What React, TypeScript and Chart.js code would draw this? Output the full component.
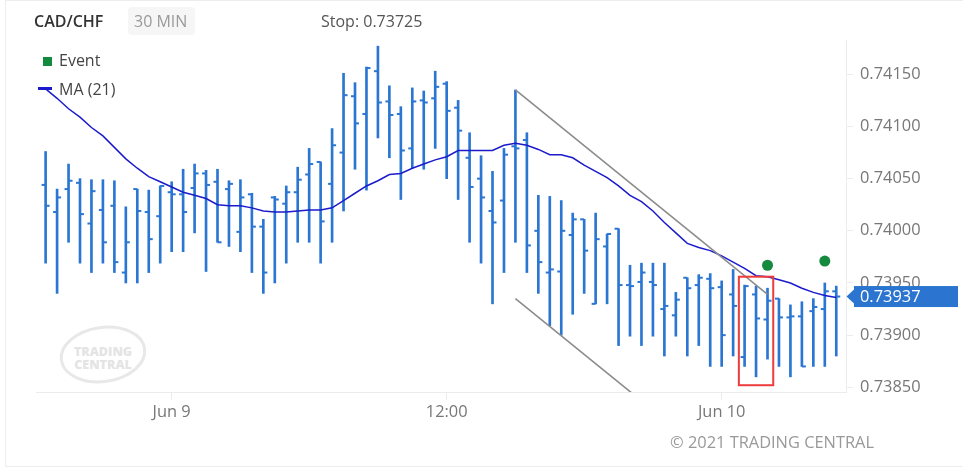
import React, { useEffect, useRef } from "react";
import { Chart, registerables } from "chart.js";

Chart.register(...registerables);

// ---- data (30-min OHLC bars, Jun 8 18:30 -> Jun 10 05:00) ----
const opens = [
  0.74044, 0.74018, 0.7404, 0.74046, 0.74007, 0.7402, 0.74024, 0.7396, 0.7404, 0.74018,
  0.74014, 0.74037, 0.74035, 0.74041, 0.74055, 0.74047, 0.7404, 0.73999, 0.74035, 0.74004,
  0.74032, 0.74026, 0.74037, 0.74054, 0.74066, 0.74045, 0.74075, 0.74129, 0.74112, 0.74153,
  0.74124, 0.74112, 0.74079, 0.74125, 0.74127, 0.74141, 0.74118, 0.7407, 0.7405, 0.74019,
  0.74029, 0.74081, 0.74087, 0.74, 0.7396, 0.73961, 0.73996, 0.74011, 0.7393, 0.73985,
  0.74002, 0.73948, 0.73951, 0.73951, 0.73925, 0.73919, 0.73955, 0.73948, 0.73954, 0.73946,
  0.73939, 0.73879, 0.73939, 0.73915, 0.73935, 0.73917, 0.73918, 0.73923, 0.73925, 0.73942,
];
const highs = [
  0.74076, 0.7404, 0.74064, 0.7405, 0.74049, 0.74049, 0.74048, 0.74023, 0.7404, 0.74039,
  0.74043, 0.74047, 0.74059, 0.74064, 0.74058, 0.74059, 0.74048, 0.74049, 0.74036, 0.74011,
  0.74033, 0.74043, 0.74061, 0.74079, 0.74066, 0.74098, 0.74151, 0.74142, 0.74157, 0.74177,
  0.74139, 0.74119, 0.74137, 0.74134, 0.74153, 0.74143, 0.74125, 0.74094, 0.74072, 0.74057,
  0.74079, 0.74135, 0.74094, 0.74034, 0.74033, 0.74029, 0.74017, 0.74011, 0.74017, 0.73997,
  0.74002, 0.73967, 0.73969, 0.73969, 0.73969, 0.73941, 0.73955, 0.73958, 0.73959, 0.73952,
  0.73963, 0.73948, 0.73947, 0.73945, 0.73935, 0.73929, 0.73932, 0.73935, 0.7395, 0.73947,
];
const lows = [
  0.73969, 0.7394, 0.73989, 0.73969, 0.7396, 0.73969, 0.7396, 0.7395, 0.7395, 0.7396,
  0.73969, 0.7398, 0.7398, 0.73998, 0.73961, 0.73989, 0.73985, 0.7398, 0.7396, 0.7394,
  0.7395, 0.73969, 0.73989, 0.73989, 0.73969, 0.73989, 0.74019, 0.74059, 0.74039, 0.74089,
  0.7407, 0.7403, 0.7406, 0.74059, 0.74079, 0.7405, 0.7403, 0.73989, 0.73969, 0.7393,
  0.7396, 0.73989, 0.7396, 0.7394, 0.73909, 0.739, 0.7392, 0.7394, 0.7393, 0.7393,
  0.7389, 0.73899, 0.7389, 0.73899, 0.7388, 0.73899, 0.7388, 0.7389, 0.7387, 0.7387,
  0.7388, 0.7387, 0.7386, 0.73877, 0.7387, 0.7386, 0.7387, 0.7387, 0.7387, 0.7388,
];
const closes = [
  0.74024, 0.74032, 0.74048, 0.74016, 0.74038, 0.73989, 0.7397, 0.73989, 0.74019, 0.73992,
  0.74043, 0.74035, 0.74018, 0.74055, 0.74044, 0.73989, 0.74045, 0.74032, 0.74004, 0.7396,
  0.7403, 0.74037, 0.74049, 0.74064, 0.74009, 0.74082, 0.7413, 0.74103, 0.74156, 0.74123,
  0.74111, 0.74077, 0.74124, 0.74123, 0.74138, 0.74115, 0.74096, 0.74042, 0.74032, 0.74008,
  0.74073, 0.74079, 0.73986, 0.7397, 0.73963, 0.74, 0.74011, 0.73981, 0.73992, 0.73997,
  0.73948, 0.73947, 0.7396, 0.73948, 0.73928, 0.73934, 0.73945, 0.73955, 0.73945, 0.739,
  0.73928, 0.73947, 0.73916, 0.73933, 0.73917, 0.73918, 0.7387, 0.73927, 0.73942, 0.73937,
];
const ma21 = [
  0.74136, 0.74127, 0.74117, 0.74109, 0.74099, 0.74091, 0.7408, 0.74069, 0.7406, 0.74052,
  0.74047, 0.74042, 0.74037, 0.74034, 0.74031, 0.74025, 0.74024, 0.74024, 0.74022, 0.74019,
  0.74018, 0.74018, 0.74019, 0.7402, 0.7402, 0.74022, 0.74029, 0.74036, 0.74043, 0.74048,
  0.74054, 0.74055, 0.7406, 0.74064, 0.74068, 0.74071, 0.74077, 0.74077, 0.74077, 0.74077,
  0.74082, 0.74084, 0.74082, 0.74078, 0.74073, 0.74073, 0.7407, 0.74063, 0.74057, 0.74051,
  0.74043, 0.74034, 0.74028, 0.74019, 0.74008, 0.73998, 0.73988, 0.73984, 0.73981, 0.73976,
  0.7397, 0.73964, 0.73957, 0.73956, 0.73953, 0.7395, 0.73945, 0.73941, 0.73938, 0.73936,
];
const eventIdx = [63, 68];
const eventVals = [0.73967, 0.73971];
const channelUpperX = [41, 63];
const channelUpperY = [0.74135, 0.73939];
const channelLowerX = [41, 52];
const channelLowerY = [0.73935, 0.73837];
const boxX = [60.5, 63.5];
const boxY = [0.73956, 0.73852];
const yTicks = [0.7385, 0.739, 0.7395, 0.74, 0.7405, 0.741, 0.7415];
const xTickIdx = [11, 35, 59];
const xTickLabels = ["Jun 9", "12:00", "Jun 10"];

const BAR_COLOR = "#2a76d2";
const FONT = "'Open Sans', sans-serif";

const ohlcTicks = {
  id: "ohlcTicks",
  afterDatasetDraw(chart: any, args: any) {
    if (args.index !== 0) return;
    const { ctx, scales } = chart;
    const x = scales.x;
    const y = scales.y;
    ctx.save();
    ctx.fillStyle = BAR_COLOR;
    opens.forEach((o, i) => {
      const px = x.getPixelForValue(i);
      ctx.fillRect(px - 4, y.getPixelForValue(o) - 1, 4, 2);
      ctx.fillRect(px, y.getPixelForValue(closes[i]) - 1, 4, 2);
    });
    ctx.restore();
  },
};

const boxPlugin = {
  id: "boxPlugin",
  afterDatasetsDraw(chart: any) {
    const { ctx, scales } = chart;
    const x0 = scales.x.getPixelForValue(boxX[0]);
    const x1 = scales.x.getPixelForValue(boxX[1]);
    const y0 = scales.y.getPixelForValue(boxY[0]);
    const y1 = scales.y.getPixelForValue(boxY[1]);
    ctx.save();
    ctx.strokeStyle = "#ee3b3b";
    ctx.lineWidth = 2;
    ctx.strokeRect(x0, y0, x1 - x0, y1 - y0);
    ctx.restore();
  },
};

const priceLabel = {
  id: "priceLabel",
  afterDraw(chart: any) {
    const { ctx, scales, chartArea } = chart;
    const last = closes[closes.length - 1];
    const py = scales.y.getPixelForValue(last);
    const ax = chartArea.right;
    ctx.save();
    ctx.fillStyle = "#2b75d0";
    ctx.beginPath();
    ctx.moveTo(ax + 0.5, py);
    ctx.lineTo(ax + 9, py - 8);
    ctx.lineTo(ax + 9, py + 8);
    ctx.closePath();
    ctx.fill();
    ctx.fillRect(ax + 8, py - 10.5, 104, 21);
    ctx.fillStyle = "#ffffff";
    ctx.font = "16.4px " + FONT;
    ctx.textBaseline = "middle";
    ctx.textAlign = "left";
    ctx.fillText(last.toFixed(5), ax + 14, py + 0.5);
    ctx.restore();
  },
};

function ChartView() {
  const ref = useRef<HTMLCanvasElement | null>(null);
  useEffect(() => {
    if (!ref.current) return;
    Chart.defaults.font.family = FONT;
    const chart = new Chart(ref.current, {
      type: "bar",
      data: {
        datasets: [
          {
            type: "bar",
            data: lows.map((l, i) => ({ x: i, y: [l, highs[i]] })) as any,
            backgroundColor: BAR_COLOR,
            borderWidth: 0,
            barThickness: 2,
            order: 5,
          } as any,
          {
            type: "line",
            data: ma21.map((v, i) => ({ x: i, y: v })),
            borderColor: "#1b1bcc",
            borderWidth: 1.5,
            pointRadius: 0,
            tension: 0,
            order: 3,
          },
          {
            type: "line",
            data: channelUpperX.map((v, i) => ({ x: v, y: channelUpperY[i] })),
            borderColor: "#8c8c8c",
            borderWidth: 1.6,
            pointRadius: 0,
            order: 2,
          },
          {
            type: "line",
            data: channelLowerX.map((v, i) => ({ x: v, y: channelLowerY[i] })),
            borderColor: "#8c8c8c",
            borderWidth: 1.6,
            pointRadius: 0,
            order: 2,
          },
          {
            type: "line",
            data: eventIdx.map((v, i) => ({ x: v, y: eventVals[i] })),
            showLine: false,
            pointRadius: 5.5,
            pointBackgroundColor: "#138a3e",
            pointBorderWidth: 0,
            borderWidth: 0,
            order: 1,
          },
        ],
      },
      options: {
        animation: false,
        responsive: false,
        events: [],
        layout: { padding: { left: 36, top: 40, right: 0, bottom: 0 } },
        plugins: { legend: { display: false }, tooltip: { enabled: false } },
        scales: {
          x: {
            type: "linear",
            position: "bottom",
            offset: false,
            min: -0.84,
            max: 69.85,
            afterBuildTicks: (s: any) => {
              s.ticks = xTickIdx.map((v) => ({ value: v }));
            },
            afterFit: (s: any) => {
              s.height = 83;
            },
            ticks: {
              autoSkip: false,
              maxRotation: 0,
              padding: 2,
              color: "#777777",
              font: { size: 16.4, family: FONT },
              callback: (v: any) => xTickLabels[xTickIdx.indexOf(Number(v))] ?? "",
            },
            grid: { drawOnChartArea: false, tickLength: 8, color: "#ececec", offset: false },
            border: { color: "#ececec" },
          },
          y: {
            type: "linear",
            position: "right",
            min: 0.738455,
            max: 0.741829,
            afterBuildTicks: (s: any) => {
              s.ticks = yTicks.map((v) => ({ value: v }));
            },
            afterFit: (s: any) => {
              s.width = 117;
            },
            ticks: {
              padding: 7,
              color: "#777777",
              font: { size: 16.4, family: FONT },
              callback: (v: any) => Number(v).toFixed(5),
            },
            grid: { drawOnChartArea: false, tickLength: 7, color: "#ececec" },
            border: { color: "#ececec" },
          },
        },
      },
      plugins: [ohlcTicks, boxPlugin, priceLabel],
    } as any);
    return () => chart.destroy();
  }, []);
  return (
    <canvas
      ref={ref}
      width={963}
      height={475}
      style={{ position: "absolute", left: 0, top: 0, width: 963, height: 475, zIndex: 2 }}
    />
  );
}

function Watermark() {
  return (
    <svg
      width={120}
      height={80}
      style={{ position: "absolute", left: 43, top: 315, zIndex: 1 }}
      viewBox="0 0 120 80"
    >
      <ellipse
        cx={60}
        cy={39.5}
        rx={42}
        ry={27}
        fill="none"
        stroke="#e8e8e8"
        strokeWidth={3}
        transform="rotate(-8 60 39.5)"
      />
      <text
        x={60}
        y={41}
        textAnchor="middle"
        fontFamily="'Open Sans', sans-serif"
        fontWeight={800}
        fontSize={12.5}
        fill="#e4e4e4"
      >
        TRADING
      </text>
      <text
        x={60}
        y={54}
        textAnchor="middle"
        fontFamily="'Open Sans', sans-serif"
        fontWeight={800}
        fontSize={12.5}
        fill="#e4e4e4"
      >
        CENTRAL
      </text>
    </svg>
  );
}

export default function App() {
  const txt: React.CSSProperties = {
    position: "absolute",
    fontFamily: FONT,
    fontSize: 16,
    lineHeight: "20px",
    whiteSpace: "nowrap",
    zIndex: 3,
  };
  return (
    <div
      style={{
        position: "absolute",
        left: 0,
        top: 0,
        width: 963,
        height: 475,
        overflow: "hidden",
        background: "#ffffff",
      }}
    >
      <div
        style={{
          position: "absolute",
          left: 5,
          top: 0,
          width: 1000,
          height: 467,
          border: "1px solid #ededed",
          boxSizing: "border-box",
        }}
      />
      <Watermark />
      <ChartView />
      <div style={{ ...txt, left: 34, top: 11, fontWeight: 600, color: "#333333" }}>CAD/CHF</div>
      <div
        style={{
          position: "absolute",
          left: 128,
          top: 7,
          width: 67,
          height: 28,
          background: "#f6f6f6",
          borderRadius: 4,
          zIndex: 2,
        }}
      />
      <div style={{ ...txt, left: 134, top: 11, color: "#9a9a9a" }}>30 MIN</div>
      <div style={{ ...txt, left: 321, top: 11, color: "#555555" }}>Stop: 0.73725</div>
      <div
        style={{
          position: "absolute",
          left: 43,
          top: 57,
          width: 9,
          height: 9,
          background: "#138a3e",
          zIndex: 3,
        }}
      />
      <div style={{ ...txt, left: 59, top: 50, color: "#444444" }}>Event</div>
      <div
        style={{
          position: "absolute",
          left: 38,
          top: 86.5,
          width: 14,
          height: 3,
          background: "#1b1bcc",
          zIndex: 3,
        }}
      />
      <div style={{ ...txt, left: 59, top: 79, color: "#444444" }}>MA (21)</div>
      <div style={{ ...txt, left: 670, top: 432, fontSize: 16.4, color: "#999999" }}>
        © 2021 TRADING CENTRAL
      </div>
    </div>
  );
}
